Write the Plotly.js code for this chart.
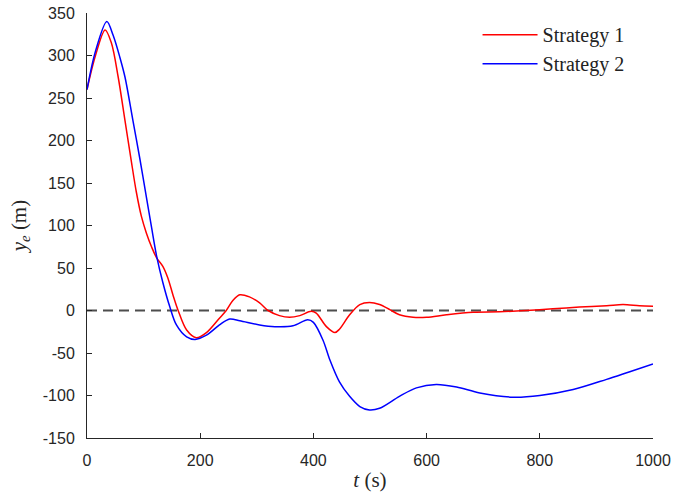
<!DOCTYPE html>
<html>
<head>
<meta charset="utf-8">
<script src="https://cdn.plot.ly/plotly-3.0.1.min.js"></script>
<style>html,body{margin:0;padding:0;background:#fff}#chart{width:673px;height:499px}</style>
</head>
<body>
<div id="chart"></div>
<script>
const t1 = [0, 15, 32, 43, 55, 67, 78, 87, 96, 105, 114, 123, 134, 143, 152, 161, 176, 193, 211, 234, 246, 258, 270, 287, 305, 320, 340, 358, 376, 396, 405, 423, 438, 446, 464, 482, 499, 517, 535, 552, 576, 600, 635, 682, 729, 776, 823, 870, 918, 947, 976, 1000];
const y1 = [260, 300, 330, 315, 275, 224, 177, 140, 111, 91, 75, 62, 52, 38, 18, 0, -23, -32, -26, -9, 0, 12, 18.5, 16, 9, 0, -6, -8, -6, -1, -3, -19, -26, -22, -5, 7, 9.5, 7, 1, -5, -8, -8, -5, -2, -1.5, 0, 2, 4, 5.6, 7, 5.6, 5];
const t2 = [0, 15, 35, 46, 58, 67, 81, 93, 105, 114, 123, 134, 146, 158, 176, 191, 211, 234, 252, 270, 305, 332, 364, 390, 400, 417, 429, 446, 464, 482, 499, 517, 552, 582, 617, 653, 694, 753, 800, 859, 918, 959, 1000];
const y2 = [260, 305, 340, 324, 298, 275, 224, 180, 133, 98, 64, 33, 5, -17, -31, -34, -29, -17, -10, -12, -17, -19, -18, -11, -14, -35, -58, -84, -101, -113, -117, -115, -101, -91, -87, -90, -97, -102, -100, -93, -81, -72, -63];
const refT = [0, 1000];
const refY = [0, 0];
const seriesNames = ['Strategy 1', 'Strategy 2'];
const xTicks = [0, 200, 400, 600, 800, 1000];
const yTicks = [-150, -100, -50, 0, 50, 100, 150, 200, 250, 300, 350];

const traces = [
  {x: refT, y: refY, mode: 'lines', showlegend: false, hoverinfo: 'skip',
   line: {color: '#4d4d4d', width: 1.8, dash: '10px,6px'}},
  {x: t1, y: y1, mode: 'lines', name: seriesNames[0],
   line: {color: '#ff0000', width: 1.5, shape: 'spline', smoothing: 0.9}},
  {x: t2, y: y2, mode: 'lines', name: seriesNames[1],
   line: {color: '#0000ff', width: 1.5, shape: 'spline', smoothing: 0.9}}
];

const layout = {
  width: 673, height: 499,
  margin: {l: 87, r: 20, t: 13, b: 61},
  paper_bgcolor: '#fff', plot_bgcolor: '#fff',
  showlegend: true,
  legend: {x: 0.69, y: 0.995, xanchor: 'left', yanchor: 'top', bgcolor: 'rgba(0,0,0,0)',
           font: {family: 'Liberation Serif', size: 20, color: '#222'}, tracegroupgap: 0, itemwidth: 55},
  xaxis: {
    range: [0, 1000], tickvals: xTicks, ticktext: xTicks.map(String),
    showgrid: false, zeroline: false, showline: true, linecolor: '#262626', linewidth: 1,
    ticks: 'inside', ticklen: 5, tickcolor: '#262626', mirror: false,
    ticklabelstandoff: 8,
    tickfont: {family: 'Liberation Sans, Arial', size: 16, color: '#262626'},
    title: {text: '<i>t</i> (s)', font: {family: 'Liberation Serif', size: 21, color: '#262626'}, standoff: 4}
  },
  yaxis: {
    range: [-150, 350], tickvals: yTicks, ticktext: yTicks.map(String),
    showgrid: false, zeroline: false, showline: true, linecolor: '#262626', linewidth: 1,
    ticks: 'inside', ticklen: 5, tickcolor: '#262626', mirror: false,
    ticklabelstandoff: 8,
    tickfont: {family: 'Liberation Sans, Arial', size: 16, color: '#262626'},
    title: {text: '<i>y<sub>e</sub></i> (m)', font: {family: 'Liberation Serif', size: 21, color: '#262626'}, standoff: 10}
  }
};

Plotly.newPlot('chart', traces, layout, {displayModeBar: false, staticPlot: true});
</script>
</body>
</html>
